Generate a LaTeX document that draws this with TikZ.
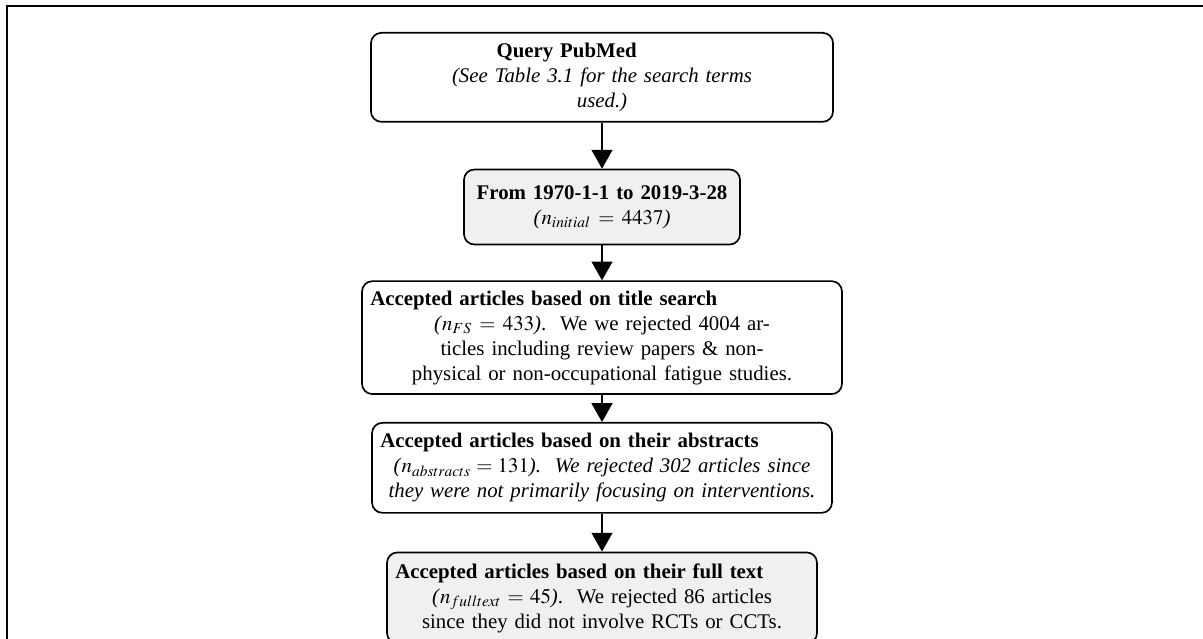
\documentclass[tikz,border=0pt]{standalone}
\usepackage{amssymb}
\usepackage{amsmath}
\usepackage{mathptmx}
\usepackage[no-math]{fontspec}
\setmainfont{Liberation Serif}
\usepackage{xcolor}
\usetikzlibrary{positioning,arrows.meta}
\definecolor{boxgray}{RGB}{240,240,240}

\begin{document}
\begin{tikzpicture}[
      box/.style={draw=black, line width=0.8pt, rounded corners=5pt, fill=white,
                  align=center, inner sep=4pt, font=\fontsize{10}{12}\selectfont},
      graybox/.style={box, fill=boxgray},
      flow/.style={line width=0.8pt, -{Triangle[width=10pt,length=9pt]}}]
         \useasboundingbox (0,0) rectangle (577.44pt,-306.72pt);
         \clip (0,0) rectangle (577.44pt,-306.72pt);
         \draw[line width=0.9pt] (3.4pt,-2.9pt) rectangle (700pt,-400pt);

         \node[box, name=query, anchor=north, text width=213.8pt, minimum height=42.7pt]
            at (288.96pt,-15.36pt)
            {\textbf{Query PubMed}\rule{34pt}{0pt}\\
             \textit{(See Table 3.1 for the search terms}\\
             \textit{used.)}};
         \node[graybox, name=range, below=22.1pt of query, text width=124.5pt, minimum height=36pt]
            {\textbf{From 1970-1-1 to 2019-3-28}\\
             \textit{(}$n_{initial} = 4437$\textit{)}};
         \node[box, name=title, below=16.8pt of range, text width=222.4pt, minimum height=54.2pt]
            {\makebox[\hsize][l]{\textbf{Accepted articles based on title search}}\\
             \textit{(}$n_{FS} = 433$\textit{)}.~~We we rejected 4004 ar-\\
             ticles including review papers \& non-\\
             physical or non-occupational fatigue studies.};
         \node[box, name=abstr, below=13pt of title, text width=212.8pt, minimum height=43.2pt]
            {\makebox[\hsize][l]{\textbf{Accepted articles based on their abstracts}}\\
             \textit{(}$n_{abstracts} = 131$\textit{).~~We rejected 302 articles since}\\
             \textit{they were not primarily focusing on interventions.}};
         \node[graybox, name=full, below=18.2pt of abstr, text width=198.4pt, minimum height=43.7pt]
            {\makebox[\hsize][l]{\textbf{Accepted articles based on their full text}}\\
             \textit{(}$n_{fulltext} = 45$\textit{)}.~~We rejected 86 articles\\
             since they did not involve RCTs or CCTs.};

         \path[flow]
            (query) edge (range)
            (range) edge (title)
            (title) edge (abstr)
            (abstr) edge (full);
      \end{tikzpicture}
\end{document}
